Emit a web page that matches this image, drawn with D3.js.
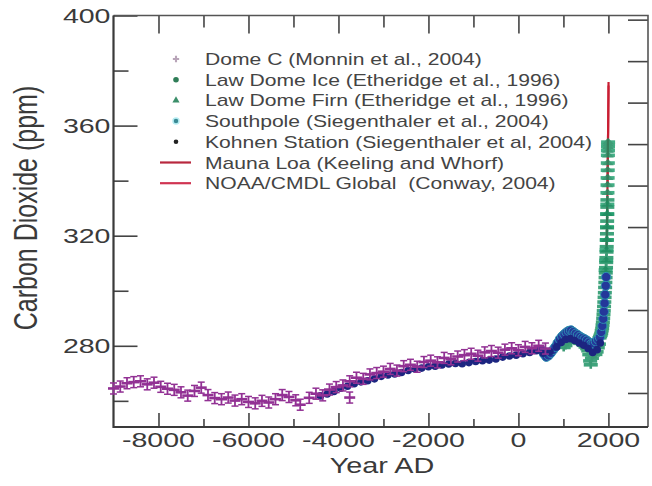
<!DOCTYPE html>
<html>
<head>
<meta charset="utf-8">
<script src="https://cdn.jsdelivr.net/npm/d3@7"></script>
<style>
  body { margin: 0; background: #fff; }
  text { font-family: "Liberation Sans", Arial, Helvetica, sans-serif; fill: #3a3a3a; }
</style>
</head>
<body>
<svg id="chart" width="652" height="486"></svg>
<script>
// Dome C (Monnin et al., 2004)
const domeYears = [-9000, -8850, -8700, -8550, -8400, -8250, -8100, -7950, -7800, -7650, -7500, -7350, -7200, -7050,
  -6900, -6750, -6600, -6450, -6300, -6150, -6000, -5850, -5700, -5550, -5400, -5250, -5100, -4950, -4850, -4650,
  -4500, -4350, -4200, -4050, -3900, -3750, -3750, -3600, -3450, -3300, -3150, -3000, -2850, -2700, -2550, -2400,
  -2250, -2100, -1950, -1800, -1650, -1500, -1350, -1200, -1050, -900, -750, -600, -450, -300, -150, 0, 150, 300, 450, 600];
const domeCO2 = [264.5, 265.2, 266.4, 266.8, 267.1, 266.0, 266.6, 265.1, 264.4, 264.0, 263.1, 261.9, 263.6, 264.8,
  262.1, 261.0, 260.6, 261.2, 260.1, 260.6, 259.6, 259.1, 260.0, 259.4, 260.6, 262.1, 261.4, 260.2, 258.6, 261.1,
  262.6, 262.0, 264.1, 265.0, 265.6, 267.1, 261.2, 268.4, 268.0, 269.6, 270.1, 270.6, 271.6, 271.0, 272.6, 273.1,
  272.4, 274.1, 274.6, 274.0, 275.6, 275.1, 276.1, 276.6, 277.1, 276.4, 277.6, 278.1, 277.5, 278.6, 279.1, 278.4, 279.6, 279.1, 280.0, 279.0];
const domeErr = 2.0;

// Kohnen Station (Siegenthaler et al, 2004)
const kohnenYears = [-4400, -4250, -4100, -3950, -3800, -3650, -3500, -3350, -3200, -3050, -2900, -2750, -2600, -2450,
  -2300, -2150, -2000, -1850, -1700, -1550, -1400, -1250, -1100, -950, -800, -650, -500, -350, -200, -50, 100, 250,
  400, 550, 700, 850, 950, 1050, 1150, 1250, 1350, 1450, 1550, 1650, 1750, 1820];
const kohnenCO2 = [261.8, 262.5, 263.4, 264.6, 265.3, 266.2, 266.9, 267.3, 268.0, 268.9, 269.4, 269.8, 270.3, 271.0,
  271.6, 271.9, 272.4, 272.6, 273.0, 273.4, 273.6, 273.5, 273.9, 274.3, 274.6, 274.8, 275.2, 275.9, 276.3, 276.6, 277.1, 277.6,
  278.2, 277.3, 277.8, 279.6, 281.2, 282.3, 282.6, 281.9, 281.0, 280.2, 279.0, 277.6, 278.6, 281.0];

// Southpole (Siegenthaler et al., 2004)
const southYears = [520, 570, 620, 670, 720, 770, 820, 870, 920, 970, 1020, 1070, 1120, 1170, 1220, 1270, 1320, 1370,
  1420, 1470, 1520, 1570, 1620, 1670, 1720, 1770, 1810, 1840, 1865, 1885, 1900, 1915, 1928, 1940, 1950];
const southCO2 = [278.3, 277.0, 276.0, 276.5, 277.4, 278.5, 279.6, 281.0, 282.4, 283.4, 284.2, 284.9, 285.4, 285.6,
  285.0, 284.4, 283.9, 283.3, 282.8, 282.4, 281.9, 281.2, 280.6, 280.9, 281.6, 282.3, 283.1, 285.0, 287.2, 289.8,
  292.4, 295.5, 298.6, 301.8, 305.0];

// Law Dome Ice (Etheridge et al., 1996)
const lawIceYears = [1006, 1045, 1101, 1147, 1196, 1244, 1280, 1326, 1372, 1410, 1451, 1492, 1528, 1552, 1575, 1594,
  1608, 1634, 1660, 1688, 1711, 1738, 1764, 1789, 1802, 1816, 1828, 1840, 1851, 1861, 1869, 1877, 1884, 1891, 1897,
  1903, 1909, 1915, 1921, 1927, 1932, 1937, 1942, 1947, 1951, 1955, 1959, 1962, 1965, 1968, 1970, 1972, 1974, 1976, 1978];
const lawIceCO2 = [279.4, 280.1, 281.2, 282.0, 282.6, 283.1, 281.9, 282.4, 280.9, 281.5, 280.2, 279.6, 279.0, 278.2,
  276.8, 274.5, 273.1, 275.5, 276.7, 277.4, 276.9, 277.8, 279.3, 280.6, 282.9, 283.4, 283.9, 284.5, 285.5, 286.3, 287.5,
  288.6, 290.0, 291.4, 292.7, 294.3, 295.9, 297.6, 299.3, 301.2, 303.0, 304.8, 306.5, 308.4, 310.3, 312.0, 314.1, 316.0,
  318.4, 320.7, 322.9, 325.3, 327.8, 330.4, 333.0];

// Law Dome Firn (Etheridge et al., 1996)
const lawFirnYears = [1938, 1950, 1958, 1964, 1969, 1973, 1976, 1979, 1981, 1983, 1985, 1987, 1989, 1990, 1991, 1992, 1993];
const lawFirnCO2 = [307.5, 311.0, 314.8, 318.5, 323.2, 327.9, 331.4, 335.6, 338.4, 341.0, 343.8, 346.4, 349.2, 350.9, 352.3, 353.2, 354.0];

// Mauna Loa (Keeling and Whorf)
const maunaYears = [1958, 1959, 1960, 1961, 1962, 1963, 1964, 1965, 1966, 1967, 1968, 1969, 1970, 1971, 1972, 1973,
  1974, 1975, 1976, 1977, 1978, 1979, 1980, 1981, 1982, 1983, 1984, 1985, 1986, 1987, 1988, 1989, 1990, 1991, 1992,
  1993, 1994, 1995, 1996, 1997, 1998, 1999, 2000, 2001, 2002, 2003];
const maunaCO2 = [315.3, 316.0, 316.9, 317.6, 318.5, 319.0, 319.6, 320.0, 321.4, 322.2, 323.1, 324.6, 325.7, 326.3,
  327.5, 329.7, 330.2, 331.1, 332.1, 333.8, 335.4, 336.8, 338.7, 340.1, 341.4, 343.0, 344.6, 346.0, 347.4, 349.2,
  351.6, 353.1, 354.4, 355.6, 356.4, 357.1, 358.8, 360.8, 362.6, 363.7, 366.7, 368.4, 369.5, 371.1, 373.2, 375.8];

// NOAA/CMDL Global (Conway, 2004)
const noaaYears = [1980, 1982, 1984, 1986, 1988, 1990, 1992, 1994, 1996, 1998, 2000, 2002, 2003];
const noaaCO2 = [338.9, 340.8, 343.8, 346.4, 350.5, 353.9, 355.8, 358.3, 361.8, 365.6, 368.8, 372.9, 374.6];

// ticks
const xMajorTicks = [-8000, -6000, -4000, -2000, 0, 2000];
const xMinorTicks = [-7000, -5000, -3000, -1000, 1000];
const yMajorTicks = [280, 320, 360, 400];
const yMinorTicks = [260, 300, 340, 380];
const rightTicks = [0, 1, 2, 3, 4, 5, 6, 7, 8, 9];

const legendLabels = [
  "Dome C (Monnin et al., 2004)",
  "Law Dome Ice (Etheridge et al., 1996)",
  "Law Dome Firn (Etheridge et al., 1996)",
  "Southpole (Siegenthaler et al., 2004)",
  "Kohnen Station (Siegenthaler et al, 2004)",
  "Mauna Loa (Keeling and Whorf)",
  "NOAA/CMDL Global  (Conway, 2004)"
];

const svg = d3.select("#chart");
const plotL = 113.5, plotR = 648, plotT = 15.5, plotB = 427;
const sx = 1.36; // the picture is stretched sideways

const x = d3.scaleLinear().domain([-9000, 2880]).range([plotL, plotR]);
const y = d3.scaleLinear().domain([250.5, 400]).range([plotB, plotT]);
const yRight = d3.scaleLinear().domain([-0.82, 9.1]).range([plotB, plotT]);

const zip = (xs, ys) => xs.map((d, i) => ({ year: d, co2: ys[i] }));

// axes (ticks only, labels drawn below)
function tickAxis(axis, tf, values, size) {
  const g = svg.append("g")
    .attr("transform", tf)
    .call(axis.tickValues(values).tickSize(size).tickFormat(""));
  g.select(".domain").remove();
  g.selectAll("line").attr("stroke", "#444").attr("stroke-width", 1.6);
  return g;
}
tickAxis(d3.axisBottom(x), `translate(0,${plotB})`, xMajorTicks, -14);
tickAxis(d3.axisBottom(x), `translate(0,${plotB})`, xMinorTicks, -8);
tickAxis(d3.axisTop(x), `translate(0,${plotT})`, xMajorTicks, -18);
tickAxis(d3.axisTop(x), `translate(0,${plotT})`, xMinorTicks, -12);
tickAxis(d3.axisLeft(y), `translate(${plotL},0)`, yMajorTicks, -24);
tickAxis(d3.axisLeft(y), `translate(${plotL},0)`, yMinorTicks, -15);
tickAxis(d3.axisRight(yRight), `translate(${plotR},0)`, rightTicks, -20);

// frame
svg.append("path")
  .attr("d", `M${plotL},${plotT}H${plotR}V${plotB}`)
  .attr("fill", "none").attr("stroke", "#555").attr("stroke-width", 1.6);
svg.append("path")
  .attr("d", `M${plotL},${plotT}V${plotB}H${plotR}`)
  .attr("fill", "none").attr("stroke", "#3a3a3a").attr("stroke-width", 2.2);

// tick labels
svg.append("g").selectAll("text").data(yMajorTicks).join("text")
  .attr("transform", d => `translate(${plotL - 3},${y(d) + 7.5}) scale(${sx},1)`)
  .attr("text-anchor", "end")
  .style("font-size", "21px")
  .text(d => d);

svg.append("g").selectAll("text").data(xMajorTicks).join("text")
  .attr("transform", d => `translate(${x(d)},447) scale(${sx},1)`)
  .attr("text-anchor", "middle")
  .style("font-size", "21px")
  .text(d => String(d));

svg.append("text")
  .attr("transform", `translate(382,473) scale(1.31,1)`)
  .attr("text-anchor", "middle")
  .style("font-size", "22px")
  .text("Year AD");

svg.append("text")
  .attr("transform", `translate(37,208) scale(${sx},1) rotate(-90)`)
  .attr("text-anchor", "middle")
  .style("font-size", "25px")
  .text("Carbon Dioxide (ppm)");

// data
const plot = svg.append("g");
const line = d3.line().x(d => x(d.year)).y(d => y(d.co2));

// instrumental records (partly hidden under the ice-core marks, as in the original)
plot.append("path").datum(zip(noaaYears, noaaCO2))
  .attr("d", line).attr("fill", "none").attr("stroke", "#d8445a").attr("stroke-width", 2.2);
plot.append("path").datum(zip(maunaYears, maunaCO2))
  .attr("d", line).attr("fill", "none").attr("stroke", "#c81e32").attr("stroke-width", 2.2);

// Law Dome Ice: horizontal age bars
const lawIce = plot.append("g").attr("opacity", 0.85)
  .selectAll("g").data(zip(lawIceYears, lawIceCO2)).join("g")
  .attr("transform", d => `translate(${x(d.year)},${y(d.co2)})`);
lawIce.append("rect").attr("x", -7).attr("y", -1.8).attr("width", 14).attr("height", 3.6).attr("fill", "#1f9466");
lawIce.append("rect").attr("x", -1.3).attr("y", -4).attr("width", 2.6).attr("height", 8).attr("fill", "#1b8a5e");

// Law Dome Firn
const lawFirn = plot.append("g").attr("opacity", 0.85)
  .selectAll("g").data(zip(lawFirnYears, lawFirnCO2)).join("g")
  .attr("transform", d => `translate(${x(d.year)},${y(d.co2)})`);
lawFirn.append("rect").attr("x", -7).attr("y", -1.8).attr("width", 14).attr("height", 3.6).attr("fill", "#23a070");
lawFirn.append("path").attr("transform", "scale(1.6,1)")
  .attr("d", d3.symbol(d3.symbolTriangle, 24)).attr("fill", "#1d8d60");

// Southpole
plot.append("g").selectAll("circle").data(zip(southYears, southCO2)).join("circle")
  .attr("cx", d => x(d.year)).attr("cy", d => y(d.co2)).attr("r", 4.6)
  .attr("fill", "#24389a").attr("stroke", "#2c8fb0").attr("stroke-width", 1);

// Kohnen
plot.append("g").selectAll("circle").data(zip(kohnenYears, kohnenCO2)).join("circle")
  .attr("cx", d => x(d.year)).attr("cy", d => y(d.co2)).attr("r", 3.8)
  .attr("fill", "#1c2580");

// Dome C with error bars
const dome = plot.append("g").attr("stroke", "#923194").attr("stroke-width", 2.6)
  .selectAll("g").data(zip(domeYears, domeCO2)).join("g")
  .attr("transform", d => `translate(${x(d.year)},0)`);
dome.append("line").attr("x1", -5.5).attr("x2", 5.5).attr("y1", d => y(d.co2)).attr("y2", d => y(d.co2));
dome.append("line").attr("x1", 0).attr("x2", 0)
  .attr("y1", d => y(d.co2 - domeErr)).attr("y2", d => y(d.co2 + domeErr)).attr("stroke-width", 1.8);
dome.append("line").attr("x1", -3.5).attr("x2", 3.5)
  .attr("y1", d => y(d.co2 - domeErr)).attr("y2", d => y(d.co2 - domeErr)).attr("stroke-width", 1.5);
dome.append("line").attr("x1", -3.5).attr("x2", 3.5)
  .attr("y1", d => y(d.co2 + domeErr)).attr("y2", d => y(d.co2 + domeErr)).attr("stroke-width", 1.5);

// legend
const legend = svg.append("g");
const legendY = i => 59 + i * 20.7;
legend.selectAll("text").data(legendLabels).join("text")
  .attr("transform", (d, i) => `translate(205,${legendY(i) + 6}) scale(1.32,1)`)
  .style("font-size", "16px")
  .style("white-space", "pre")
  .style("fill", "#444")
  .text(d => d);

const lx = 176;
legend.append("path").attr("transform", `translate(${lx},${legendY(0)})`)
  .attr("d", d3.symbol(d3.symbolCross, 22)).attr("fill", "#b8a4b8");
legend.append("circle").attr("cx", lx).attr("cy", legendY(1)).attr("r", 2.8).attr("fill", "#2f7d57");
legend.append("path").attr("transform", `translate(${lx},${legendY(2)})`)
  .attr("d", d3.symbol(d3.symbolTriangle, 22)).attr("fill", "#3c8f6a");
legend.append("circle").attr("cx", lx).attr("cy", legendY(3)).attr("r", 3)
  .attr("fill", "#3a8a94").attr("stroke", "#b6ecf2").attr("stroke-width", 1.5);
legend.append("circle").attr("cx", lx).attr("cy", legendY(4)).attr("r", 2.3).attr("fill", "#222");
legend.append("line").attr("x1", 160).attr("x2", 191).attr("y1", legendY(5)).attr("y2", legendY(5))
  .attr("stroke", "#b8283e").attr("stroke-width", 2.2);
legend.append("line").attr("x1", 160).attr("x2", 191).attr("y1", legendY(6)).attr("y2", legendY(6))
  .attr("stroke", "#d03452").attr("stroke-width", 2.2);
</script>
</body>
</html>
